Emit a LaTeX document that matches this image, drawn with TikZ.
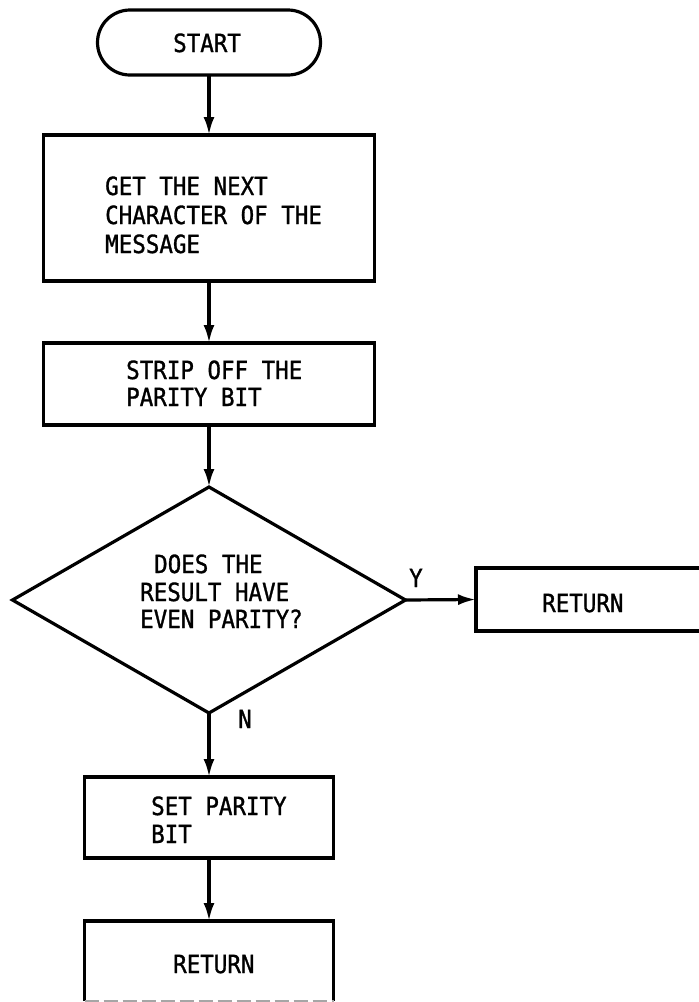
\documentclass[tikz,border=0pt]{standalone}
\usepackage{fontspec}
\newfontfamily\flowfont[FakeStretch=0.9,FakeBold=1.2]{DejaVu Sans Mono}
\usetikzlibrary{arrows.meta,shapes.geometric,shapes.misc}
\tikzset{
  shp/.style={draw=black, line width=3.2pt, inner sep=0pt, outer sep=0pt},
  boxnode/.style={shp, rectangle},
  txt/.style={anchor=base west, inner sep=0pt, font=\flowfont\fontsize{25}{30}\selectfont},
  arr/.style={line width=3.2pt, -{Latex[length=18pt,width=11pt]}},
}
\begin{document}
\begin{tikzpicture}[x=1pt,y=-1pt]
\useasboundingbox (0,0) rectangle (699,1002);
\clip (0,0) rectangle (699,1002);
% shapes
\node[shp, rounded rectangle, minimum width=223pt, minimum height=65pt] (start) at (209,42.5) {};
\node[boxnode, minimum width=331pt, minimum height=146pt] (b1) at (209,208) {};
\node[boxnode, minimum width=331pt, minimum height=82pt] (b2) at (209,384) {};
\node[shp, diamond, minimum width=393pt, minimum height=226pt] (d) at (209,600) {};
\node[boxnode, minimum width=240pt, minimum height=63pt] (ret1) at (596,599.5) {};
\node[boxnode, minimum width=249pt, minimum height=81pt] (b3) at (209,817.5) {};
\node[inner sep=0pt, outer sep=0pt, minimum width=249pt, minimum height=80pt] (b4) at (209,961) {};
\draw[line width=3.2pt] (b4.south west) |- (b4.north east) -- (b4.south east);
\draw[line width=2.5pt, gray!70, dash pattern=on 14pt off 5pt] (b4.south west) -- (b4.south east);
% texts
\node[txt] (tstart) at (173,52) {START};
\node[txt] (t1a) at (105,195) {GET THE NEXT};
\node[txt] (t1b) at (105,224) {CHARACTER OF THE};
\node[txt] (t1c) at (105,253) {MESSAGE};
\node[txt] (t2a) at (126,379) {STRIP OFF THE};
\node[txt] (t2b) at (126,406) {PARITY BIT};
\node[txt] (tda) at (154,573) {DOES THE};
\node[txt] (tdb) at (140,601) {RESULT HAVE};
\node[txt] (tdc) at (140,628) {EVEN PARITY?};
\node[txt] (ty) at (409,587) {Y};
\node[txt] (tret1) at (542,612) {RETURN};
\node[txt] (tn) at (238,728) {N};
\node[txt] (t3a) at (151,815) {SET PARITY};
\node[txt] (t3b) at (151,843) {BIT};
\node[txt] (tret2) at (173,973) {RETURN};
% connectors
\draw[arr] (start.south) -- (b1.north);
\draw[arr] (b1.south) -- (b2.north);
\draw[arr] (b2.south) -- (d.north);
\draw[arr] (d.east) -- (ret1.west);
\draw[arr] (d.south) -- (b3.north);
\draw[arr] (b3.south) -- (b4.north);
\end{tikzpicture}
\end{document}
